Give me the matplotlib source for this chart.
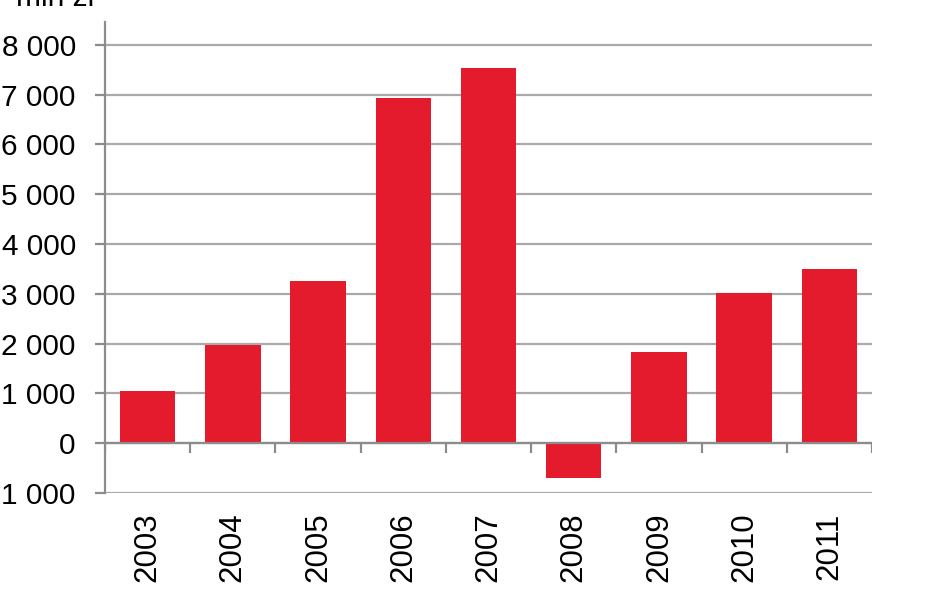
import numpy as np
import matplotlib
matplotlib.use("Agg")
import matplotlib.pyplot as plt
from matplotlib.ticker import FuncFormatter

plt.rcParams['font.family'] = ['Liberation Sans', 'DejaVu Sans']

# data (mln zł)
years = ['2003', '2004', '2005', '2006', '2007', '2008', '2009', '2010', '2011']
values = [1050, 1980, 3250, 6930, 7540, -700, 1840, 3010, 3500]
yticks = list(range(-1000, 9000, 1000))
unit_label = 'mln zł'

bar_color = '#E31B2C'
grid_color = '#AAAAAA'
axis_color = '#8C8C8C'

fig = plt.figure(figsize=(9.48, 5.93), dpi=100)
ax = fig.add_axes([105/948, 1 - 493/593, (872 - 105)/948, (493 - 22)/593])

x = np.arange(len(years))
ax.bar(x, values, width=0.65, color=bar_color, zorder=3)

ax.set_xlim(-0.5, len(years) - 0.5)
ax.set_ylim(-1000, 8460)
ax.set_yticks(yticks)
ax.yaxis.set_major_formatter(FuncFormatter(lambda v, p: f"{v:,.0f}".replace(",", " ")))
ax.grid(axis='y', color=grid_color, linewidth=1.6, zorder=0)

# category axis at zero with boundary ticks
ax.axhline(0, color=axis_color, linewidth=1.6, zorder=4)
ax.vlines(np.arange(len(years) + 1) - 0.5, -200, 0, color=axis_color, linewidth=1.6, zorder=4)

ax.set_xticks(x)
ax.set_xticklabels(years, rotation=90)
ax.tick_params(axis='x', length=0, pad=14, labelsize=22.5)
ax.tick_params(axis='y', length=7, width=1.6, color=axis_color, pad=14, labelsize=21.5)

for s in ['top', 'right', 'bottom']:
    ax.spines[s].set_visible(False)
ax.spines['left'].set_color(axis_color)
ax.spines['left'].set_linewidth(1.6)

fig.text(55/948, 1 - 6/593, unit_label, fontsize=21.5, ha='center', va='baseline')

fig.savefig('out.png', dpi=100)
